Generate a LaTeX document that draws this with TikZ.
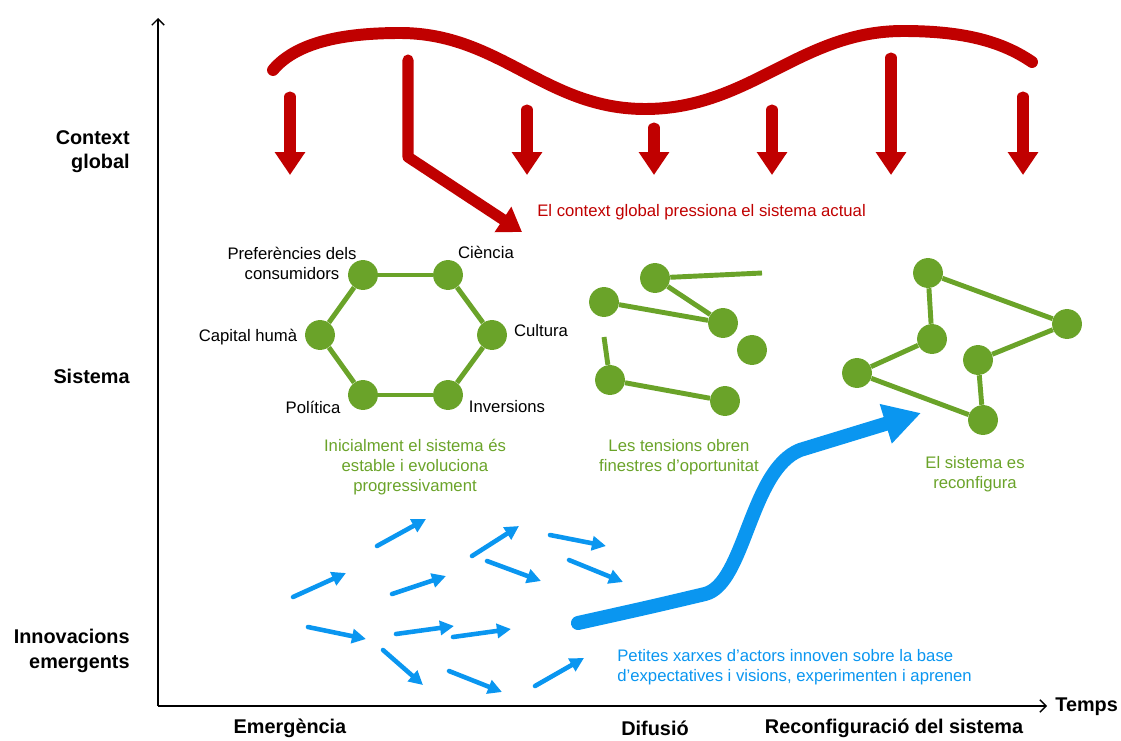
\documentclass[tikz,border=0pt]{standalone}
\usepackage{fontspec}
\setmainfont{Liberation Sans}
\usetikzlibrary{arrows.meta,shapes}
\definecolor{ctxred}{HTML}{C00000}
\definecolor{sysgreen}{HTML}{6AA329}
\definecolor{innblue}{HTML}{0A96F0}
\tikzstyle{vertex}=[circle,fill=sysgreen,minimum size=17pt,inner sep=0pt]
\tikzstyle{link} = [draw,sysgreen,line width=2.8pt,-]
\tikzstyle{axis} = [draw,black,line width=0.8pt,-{Straight Barb[length=3.5pt,width=7pt]}]
\tikzstyle{wave} = [draw,ctxred,line width=6.8pt,line cap=round]
\tikzstyle{push} = [draw,ctxred,line width=6.3pt,line cap=round,line join=round,-{Triangle[width=16.5pt,length=13pt]}]
\tikzstyle{spark} = [draw,innblue,line width=2.6pt,line cap=round,-{Triangle[width=8pt,length=8pt]}]
\tikzstyle{growth} = [draw,innblue,line width=8pt,line cap=round,line join=round,-{Triangle[width=22pt,length=21pt]}]
\tikzstyle{lbl} = [align=center,inner sep=0pt,font=\fontsize{9.5pt}{11.4pt}\selectfont]
\tikzstyle{note} = [lbl]
\tikzstyle{rowlbl} = [anchor=east,align=right,inner sep=0pt,font=\fontsize{11.3pt}{13.8pt}\selectfont\bfseries]
\tikzstyle{phase} = [inner sep=0pt,font=\fontsize{11.3pt}{13.8pt}\selectfont\bfseries]

\begin{document}
\begin{tikzpicture}[x=0.02cm,y=-0.02cm]
    \useasboundingbox (0,0) rectangle (1121,740);

    % Axes and their labels
    \coordinate (origin) at (158,706);
    \coordinate (ytop) at (158,18);
    \coordinate (xend) at (1047,706);
    \path[axis] (origin) -- (ytop);
    \path[axis] (origin) -- (xend);
    \node[phase,anchor=west] (temps) at (1055,707) {Temps};
    \node[rowlbl] (context) at (130,152) {Context\\global};
    \node[rowlbl] (sistema) at (130,376) {Sistema};
    \node[rowlbl] (innov) at (130,651) {Innovacions\\emergents};
    \node[phase] (emerg) at (290,728) {Emergència};
    \node[phase] (difus) at (655,728) {Difusió};
    \node[phase] (reconf) at (894,728) {Reconfiguració del sistema};

    % Global context: wave and pressure arrows
    \path[wave] (273,70) .. controls (298,40) and (350,33) .. (400,33)
        .. controls (500,33) and (545,109) .. (645,109)
        .. controls (750,109) and (800,31) .. (903,31)
        .. controls (960,31) and (1000,40) .. (1032,62);
    \foreach \x/\top in {290/97, 527/110, 654/128, 772/110, 891/58, 1023/97}
        \path[push] (\x,\top) -- (\x,175);
    \path[push] (408,60) -- (408,157) -- (522,232);
    \node[note,text=ctxred,anchor=west] (pressnote) at (537,212) {El context global pressiona el sistema actual};

    % Stable system: the hexagon
    \foreach \pos/\name in {{(363,275)/pref}, {(448,275)/cien}, {(492,335)/cult}, {(448,395)/inv}, {(363,395)/pol}, {(320,335)/cap}}
        \node[vertex] (\name) at \pos {};
    \foreach \source/\dest in {pref/cien, cien/cult, cult/inv, inv/pol, pol/cap, cap/pref}
        \path[link] (\source) -- (\dest);
    \node[lbl] (preflbl) at (292,263) {Preferències dels\\consumidors};
    \node[lbl] (cienlbl) at (486,252) {Ciència};
    \node[lbl] (caplbl) at (248,337) {Capital humà};
    \node[lbl] (cultlbl) at (541,331) {Cultura};
    \node[lbl] (pollbl) at (313,407) {Política};
    \node[lbl] (invlbl) at (507,407) {Inversions};
    \node[note,text=sysgreen] (stablenote) at (415,467) {Inicialment el sistema és\\estable i evoluciona\\progressivament};

    % System under tension
    \foreach \pos/\name in {{(655,278)/ta}, {(604,302)/tb}, {(723,323)/tc}, {(752,350)/td}, {(610,380)/te}, {(725,401)/tf}}
        \node[vertex] (\name) at \pos {};
    \coordinate (tfree1) at (762,273);
    \coordinate (tfree2) at (604,337);
    \foreach \source/\dest in {ta/tfree1, ta/tc, tb/tc, te/tfree2, te/tf}
        \path[link] (\source) -- (\dest);
    \node[note,text=sysgreen] (tensnote) at (679,457) {Les tensions obren\\finestres d’oportunitat};

    % Reconfigured system
    \foreach \pos/\name in {{(928,273)/ra}, {(1067,324)/rb}, {(932,339)/rc}, {(978,360)/rd}, {(857,373)/re}, {(983,420)/rf}}
        \node[vertex] (\name) at \pos {};
    \foreach \source/\dest in {ra/rb, ra/rc, rc/re, re/rf, rd/rb, rd/rf}
        \path[link] (\source) -- (\dest);
    \node[note,text=sysgreen] (reconfnote) at (975,474) {El sistema es\\reconfigura};

    % Emerging innovations
    \foreach \a/\b in {{(377,546)/(426,519)}, {(293,597)/(346,573)}, {(392,594)/(446,576)}, {(472,556)/(519,526)}, {(487,561)/(541,581)}, {(550,535)/(606,546)}, {(569,560)/(623,582)}, {(308,627)/(366,639)}, {(396,634)/(454,626)}, {(453,637)/(511,629)}, {(383,650)/(423,685)}, {(449,671)/(502,692)}, {(535,686)/(584,658)}}
        \path[spark] \a -- \b;
    \path[growth] (578,623) .. controls (650,607) .. (705,594)
        .. controls (745,584) and (750,470) .. (800,450) -- (921,413);
    \node[note,text=innblue,anchor=west,align=left] (innovnote) at (617,667) {Petites xarxes d’actors innoven sobre la base\\d’expectatives i visions, experimenten i aprenen};
\end{tikzpicture}
\end{document}
